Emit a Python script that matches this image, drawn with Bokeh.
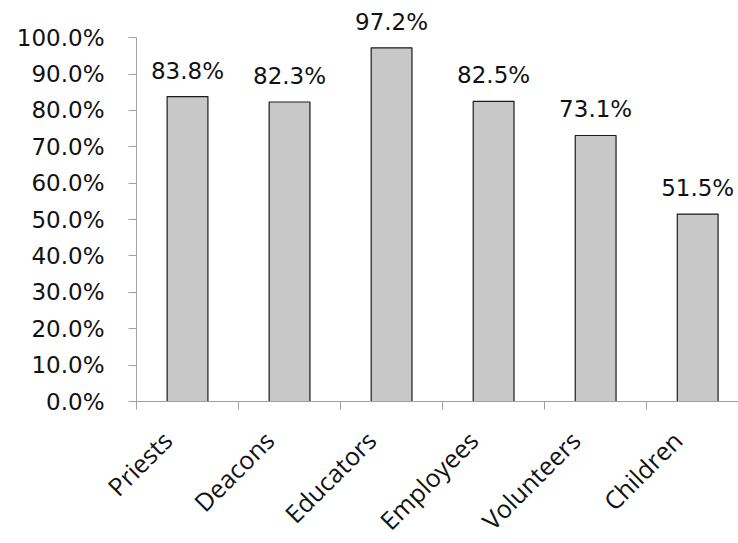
from bokeh.plotting import figure
from bokeh.models import Range1d, FixedTicker, ColumnDataSource, LabelSet
from bokeh.core.properties import value
from bokeh.embed import file_html
from bokeh.resources import INLINE
import math

categories = ["Priests", "Deacons", "Educators", "Employees", "Volunteers", "Children"]
values = [83.8, 82.3, 97.2, 82.5, 73.1, 51.5]
y_ticks = [0, 10, 20, 30, 40, 50, 60, 70, 80, 90, 100]

centers = [i + 0.5 for i in range(len(categories))]
labels = [f"{v:.1f}%" for v in values]
src = ColumnDataSource(dict(x=centers, top=values, lab=labels))

# rotated category labels are anchored a little left of each category centre
label_pos = [c - 0.2 for c in centers]

p = figure(frame_width=602, frame_height=393, output_backend="svg", toolbar_location=None,
           x_range=Range1d(0, 5.9), y_range=Range1d(0, 108),
           min_border_left=136, min_border_right=0, min_border_top=8, min_border_bottom=130)
p.outline_line_color = None
p.xgrid.grid_line_color = None
p.ygrid.grid_line_color = None
p.background_fill_color = "white"
p.border_fill_color = "white"

p.vbar(x="x", top="top", width=0.4, bottom=0, source=src,
       fill_color="#c8c8c8", line_color="#1a1a1a", line_width=1.2)

ls = LabelSet(x="x", y="top", text="lab", source=src, text_align="center",
              text_baseline="bottom", y_offset=13, text_font=value("DejaVu Sans"),
              text_font_size="23px", text_color="#111111")
p.add_layout(ls)

ya = p.yaxis[0]
ya.ticker = FixedTicker(ticks=y_ticks)
ya.bounds = (0, 100)
ya.major_label_overrides = {t: f"{t:.1f}%" for t in y_ticks}
ya.major_label_text_font = "DejaVu Sans"
ya.major_label_text_font_size = "23px"
ya.major_label_text_color = "#111111"
ya.axis_line_color = "#a0a0a0"
ya.major_tick_line_color = "#a0a0a0"
ya.major_tick_out = 8
ya.major_tick_in = 0
ya.minor_tick_line_color = None
ya.major_label_standoff = 24

xa = p.xaxis[0]
xa.ticker = FixedTicker(ticks=label_pos, minor_ticks=list(range(len(categories) + 1)))
xa.major_label_overrides = {c: n for c, n in zip(label_pos, categories)}
xa.major_label_orientation = math.pi / 4
xa.major_label_text_font = "Open Sans"
xa.major_label_text_font_size = "25px"
xa.major_label_text_color = "#111111"
xa.major_tick_line_color = None
xa.minor_tick_line_color = "#a0a0a0"
xa.minor_tick_out = 8
xa.minor_tick_in = 0
xa.axis_line_color = "#a0a0a0"
xa.major_label_standoff = 26

open("out.html", "w").write(file_html(p, INLINE))
